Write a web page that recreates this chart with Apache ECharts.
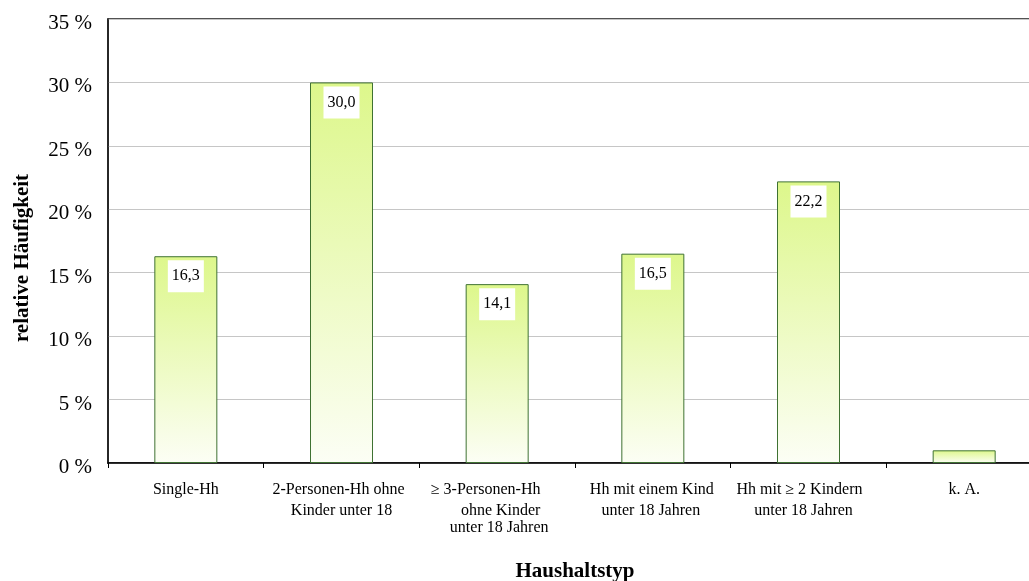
<!DOCTYPE html>
<html>
<head>
<meta charset="utf-8">
<script src="https://cdn.jsdelivr.net/npm/echarts@6/dist/echarts.min.js"></script>
<style>
  html, body { margin: 0; padding: 0; background: #fff; }
  #chart { width: 1029px; height: 581px; }
</style>
</head>
<body>
<div id="chart"></div>
<script>
// Household types (each entry is a list of label lines)
const categories = [
  ['Single-Hh'],
  ['2-Personen-Hh ohne', 'Kinder unter 18'],
  ['\u2265 3-Personen-Hh', 'ohne Kinder', 'unter 18 Jahren'],
  ['Hh mit einem Kind', 'unter 18 Jahren'],
  ['Hh mit \u2265 2 Kindern', 'unter 18 Jahren'],
  ['k. A.']
];
// relative frequency in percent
const shares = [16.3, 30.0, 14.1, 16.5, 22.2, 1.0];
// shares that carry a value box
const showValue = [true, true, true, true, true, false];
const yTicks = { min: 0, max: 35, step: 5 };

const FONT = '"Liberation Serif", "Times New Roman", serif';

// horizontal nudges of single label lines [padLeft, padRight]
const linePad = [
  [[0, 0]],
  [[0, 6], [0, 0]],
  [[0, 23], [7, 0], [4, 0]],
  [[0, 2], [0, 4]],
  [[0, 18], [0, 10]],
  [[0, 0]]
];

const rich = {};
const catKeys = categories.map((lines, ci) => {
  return lines.map((txt, li) => {
    const key = 'c' + ci + 'l' + li;
    const p = linePad[ci][li];
    rich[key] = {
      fontFamily: FONT, fontSize: 16, color: '#000',
      lineHeight: (ci === 2 && li === 2) ? 13 : 21,
      padding: [0, p[1], 0, p[0]]
    };
    return '{' + key + '|' + txt + '}';
  }).join('\n');
});
const catNames = categories.map(l => l.join(' '));

const chart = echarts.init(document.getElementById('chart'), null, { renderer: 'canvas' });

chart.setOption({
  animation: false,
  backgroundColor: '#fff',
  grid: {
    left: 108, top: 19, bottom: 118, right: -13,
    outerBoundsMode: 'none',
    containLabel: false,
    show: true, borderColor: '#1a1a1a', borderWidth: 1.5, backgroundColor: 'transparent'
  },
  xAxis: {
    type: 'category',
    data: catNames,
    axisLine: { lineStyle: { color: '#000', width: 1.5 } },
    axisTick: { show: true, alignWithLabel: false, length: 5, lineStyle: { color: '#000' } },
    axisLabel: {
      interval: 0, margin: 16,
      formatter: (v, i) => catKeys[i],
      rich: rich
    },
    name: 'Haushaltstyp',
    nameLocation: 'middle',
    nameGap: 98,
    nameTextStyle: { fontFamily: FONT, fontSize: 21, fontWeight: 'bold', color: '#000' }
  },
  yAxis: {
    type: 'value',
    min: yTicks.min, max: yTicks.max, interval: yTicks.step,
    axisLine: { show: true, lineStyle: { color: '#1a1a1a', width: 1.5 } },
    axisTick: { show: false },
    splitLine: { lineStyle: { color: '#c6c6c6', width: 1 } },
    axisLabel: {
      margin: 16,
      formatter: v => '{p|' + v + ' %}',
      rich: {
        p: { fontFamily: FONT, fontSize: 21, color: '#000', lineHeight: 21, padding: [9, 0, 0, 0] }
      }
    }
  },
  graphic: [{
    type: 'text',
    x: 23, y: 258,
    rotation: Math.PI / 2,
    style: {
      text: 'relative H\u00e4ufigkeit',
      font: 'bold 21px ' + FONT,
      fill: '#000',
      align: 'center', verticalAlign: 'middle'
    }
  }],
  series: [{
    type: 'bar',
    barWidth: 63,
    data: shares.map((v, i) => ({
      value: v,
      label: { show: showValue[i] }
    })),
    itemStyle: {
      color: new echarts.graphic.LinearGradient(0, 0, 0, 1, [
        { offset: 0, color: '#ddf78b' },
        { offset: 1, color: '#fcfef5' }
      ]),
      borderColor: '#3f7232',
      borderWidth: 1
    },
    label: {
      show: true,
      position: 'insideTop',
      distance: 4,
      formatter: p => p.value.toFixed(1).replace('.', ','),
      fontFamily: FONT, fontSize: 16, color: '#000',
      lineHeight: 16,
      backgroundColor: '#fff',
      padding: [8, 4]
    }
  }]
});
</script>
</body>
</html>
